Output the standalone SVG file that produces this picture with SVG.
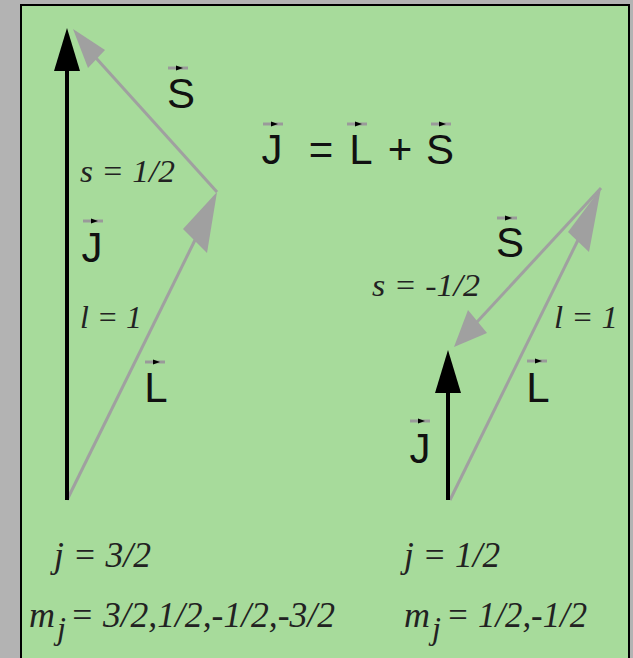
<svg xmlns="http://www.w3.org/2000/svg" xmlns:xlink="http://www.w3.org/1999/xlink" width="633" height="658" viewBox="0 0 633 658">
  <style>
    .sans { font-family: "Liberation Sans", Arial, sans-serif; font-size: 42px; fill: #111; text-anchor: middle; }
    .ital { font-family: "Liberation Serif", "Times New Roman", serif; font-style: italic; fill: #222; }
    .gl { stroke: #a0a0a0; stroke-width: 3; fill: none; }
    .gh { fill: #a0a0a0; stroke: none; }
    .bl { stroke: #000; stroke-width: 4; fill: none; }
    .bh { fill: #000; stroke: none; }
  </style>
  <defs>
    <g id="vec">
      <line x1="-10" y1="0" x2="10" y2="0" stroke="#9a9a9a" stroke-width="3"/>
      <polygon points="-2,-2.5 5,0 -2,2.5" fill="#000"/>
    </g>
  </defs>

  <rect x="0" y="0" width="633" height="658" fill="#b3b3b3"/>
  <rect x="21" y="5" width="608" height="665" fill="#a7db9b" stroke="#000" stroke-width="2"/>

  <g id="connectors">
    <!-- left diagram -->
    <g id="left-L">
      <line class="gl" x1="67" y1="500" x2="196" y2="238"/>
      <polygon class="gh" points="217,192 207,253 183,229"/>
    </g>
    <g id="left-S">
      <line class="gl" x1="217" y1="192" x2="96" y2="58"/>
      <polygon class="gh" points="73,29 105,50 88,68"/>
    </g>
    <g id="left-J">
      <line class="bl" x1="67" y1="500" x2="67" y2="68"/>
      <polygon class="bh" points="67,28 80,71 54,71"/>
    </g>
    <!-- right diagram -->
    <g id="right-L">
      <line class="gl" x1="450" y1="500" x2="579" y2="238"/>
      <polygon class="gh" points="601,188 589,252 568,232"/>
    </g>
    <g id="right-S">
      <line class="gl" x1="601" y1="188" x2="477" y2="322"/>
      <polygon class="gh" points="454,347 468,310 487,333"/>
    </g>
    <g id="right-J">
      <line class="bl" x1="448" y1="500" x2="448" y2="390"/>
      <polygon class="bh" points="448,350 461,393 435,393"/>
    </g>
  </g>

  <g id="equation">
    <text class="sans" x="272" y="164">J</text>
    <use xlink:href="#vec" x="273" y="124"/>
    <text class="sans" x="321" y="164">=</text>
    <text class="sans" x="361" y="164">L</text>
    <use xlink:href="#vec" x="357" y="124"/>
    <text class="sans" x="400" y="164">+</text>
    <text class="sans" x="440" y="164">S</text>
    <use xlink:href="#vec" x="441" y="124"/>
  </g>

  <g id="left-labels">
    <text class="sans" x="181" y="108">S</text>
    <use xlink:href="#vec" x="178" y="68"/>
    <text class="sans" x="92" y="262">J</text>
    <use xlink:href="#vec" x="93" y="221"/>
    <text class="sans" x="156" y="402">L</text>
    <use xlink:href="#vec" x="155" y="362"/>
    <text class="ital" x="80" y="182" font-size="31" textLength="95" lengthAdjust="spacingAndGlyphs">s = 1/2</text>
    <text class="ital" x="80" y="328" font-size="31" textLength="62" lengthAdjust="spacingAndGlyphs">l = 1</text>
  </g>

  <g id="right-labels">
    <text class="sans" x="510" y="257">S</text>
    <use xlink:href="#vec" x="507" y="218"/>
    <text class="sans" x="420" y="463">J</text>
    <use xlink:href="#vec" x="420" y="421"/>
    <text class="sans" x="538" y="402">L</text>
    <use xlink:href="#vec" x="537" y="361"/>
    <text class="ital" x="372" y="296" font-size="31" textLength="108" lengthAdjust="spacingAndGlyphs">s = -1/2</text>
    <text class="ital" x="554" y="328" font-size="31" textLength="64" lengthAdjust="spacingAndGlyphs">l = 1</text>
  </g>

  <g id="results">
    <text class="ital" x="54" y="567" font-size="35" textLength="97" lengthAdjust="spacingAndGlyphs">j = 3/2</text>
    <text class="ital" x="404" y="567" font-size="35" textLength="96" lengthAdjust="spacingAndGlyphs">j = 1/2</text>
    <text class="ital" x="29" y="627" font-size="35" textLength="26" lengthAdjust="spacingAndGlyphs">m</text>
    <text class="ital" x="57" y="639" font-size="32">j</text>
    <text class="ital" x="70" y="627" font-size="35" textLength="265" lengthAdjust="spacingAndGlyphs">= 3/2,1/2,-1/2,-3/2</text>
    <text class="ital" x="404" y="627" font-size="35" textLength="26" lengthAdjust="spacingAndGlyphs">m</text>
    <text class="ital" x="432" y="639" font-size="32">j</text>
    <text class="ital" x="446" y="627" font-size="35" textLength="141" lengthAdjust="spacingAndGlyphs">= 1/2,-1/2</text>
  </g>
</svg>
